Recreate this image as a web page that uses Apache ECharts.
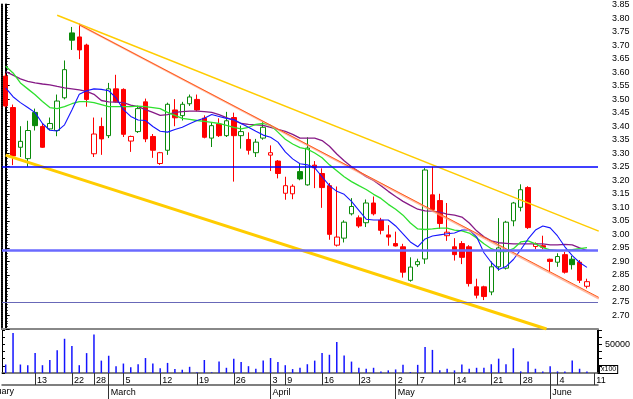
<!DOCTYPE html>
<html>
<head>
<meta charset="utf-8">
<script src="https://cdn.jsdelivr.net/npm/echarts/dist/echarts.min.js"></script>
<style>
	html, body { margin: 0; padding: 0; background: #fff; }
	#chart { width: 633px; height: 399px; }
</style>
</head>
<body>
<div id="chart"></div>
<script>
	// trading days shown (last slot is an empty day at the right edge)
	var dates = ['2012-02-07', '2012-02-08', '2012-02-09', '2012-02-10', '2012-02-13', '2012-02-14', '2012-02-15', '2012-02-16', '2012-02-17', '2012-02-22',
		'2012-02-23', '2012-02-24', '2012-02-28', '2012-02-29', '2012-03-01', '2012-03-02', '2012-03-05', '2012-03-06', '2012-03-07', '2012-03-08',
		'2012-03-09', '2012-03-12', '2012-03-13', '2012-03-14', '2012-03-15', '2012-03-16', '2012-03-19', '2012-03-20', '2012-03-21', '2012-03-22',
		'2012-03-23', '2012-03-26', '2012-03-27', '2012-03-28', '2012-03-29', '2012-03-30', '2012-04-03', '2012-04-05', '2012-04-09', '2012-04-10',
		'2012-04-11', '2012-04-12', '2012-04-13', '2012-04-16', '2012-04-17', '2012-04-18', '2012-04-19', '2012-04-20', '2012-04-23', '2012-04-24',
		'2012-04-25', '2012-04-26', '2012-04-27', '2012-05-02', '2012-05-03', '2012-05-04', '2012-05-07', '2012-05-08', '2012-05-09', '2012-05-10',
		'2012-05-11', '2012-05-14', '2012-05-15', '2012-05-16', '2012-05-17', '2012-05-18', '2012-05-21', '2012-05-22', '2012-05-23', '2012-05-24',
		'2012-05-28', '2012-05-29', '2012-05-30', '2012-05-31', '2012-06-01', '2012-06-04', '2012-06-05', '2012-06-06', '2012-06-07', '2012-06-08',
		'2012-06-11'];
	var monthNames = ['January', 'February', 'March', 'April', 'May', 'June', 'July', 'August', 'September', 'October', 'November', 'December'];

	var open = [3.585, 3.469, 3.322, 3.28, 3.451, 3.399, 3.39, 3.384, 3.505, 3.745,
		3.73, 3.70, 3.298, 3.399, 3.365, 3.538, 3.536, 3.345, 3.38, 3.49,
		3.362, 3.262, 3.311, 3.46, 3.439, 3.483, 3.499, 3.43, 3.356, 3.408,
		3.365, 3.432, 3.365, 3.351, 3.302, 3.356, 3.293, 3.271, 3.152, 3.15,
		3.232, 3.183, 3.256, 3.225, 3.18, 2.96, 2.986, 3.076, 3.061, 3.043,
		3.116, 3.052, 2.998, 2.966, 2.954, 2.83, 2.888, 2.909, 3.146, 3.125,
		2.995, 2.954, 2.966, 2.954, 2.806, 2.806, 2.787, 2.88, 2.875, 3.05,
		3.10, 3.173, 2.955, 2.958, 2.908, 2.897, 2.925, 2.908, 2.897, 2.808];
	var high = [3.595, 3.48, 3.40, 3.42, 3.465, 3.408, 3.432, 3.517, 3.643, 3.767,
		3.779, 3.705, 3.432, 3.432, 3.56, 3.59, 3.54, 3.365, 3.476, 3.502,
		3.371, 3.305, 3.487, 3.50, 3.49, 3.517, 3.517, 3.44, 3.414, 3.429,
		3.453, 3.45, 3.402, 3.377, 3.353, 3.417, 3.329, 3.275, 3.213, 3.185,
		3.262, 3.359, 3.271, 3.244, 3.19, 3.177, 3.052, 3.134, 3.07, 3.129,
		3.14, 3.061, 3.034, 3.01, 2.965, 2.915, 2.91, 3.245, 3.25, 3.15,
		3.116, 2.986, 2.975, 2.96, 2.836, 2.81, 2.90, 3.06, 3.05, 3.12,
		3.185, 3.178, 2.97, 2.995, 2.91, 2.93, 2.935, 2.92, 2.905, 2.836];
	var low = [3.47, 3.256, 3.286, 3.25, 3.384, 3.32, 3.385, 3.363, 3.499, 3.682,
		3.648, 3.472, 3.286, 3.294, 3.356, 3.488, 3.36, 3.305, 3.375, 3.341,
		3.283, 3.257, 3.294, 3.40, 3.421, 3.475, 3.455, 3.355, 3.323, 3.36,
		3.36, 3.195, 3.317, 3.295, 3.286, 3.35, 3.234, 3.207, 3.128, 3.13,
		3.2, 3.18, 3.171, 3.098, 2.98, 2.955, 2.97, 3.07, 3.024, 3.027,
		3.07, 3.0, 2.958, 2.955, 2.84, 2.825, 2.88, 2.891, 3.09, 3.02,
		2.976, 2.903, 2.89, 2.807, 2.763, 2.757, 2.775, 2.865, 2.87, 3.03,
		3.085, 3.02, 2.945, 2.945, 2.86, 2.88, 2.855, 2.87, 2.82, 2.80];
	var close = [3.475, 3.29, 3.344, 3.384, 3.402, 3.322, 3.41, 3.493, 3.609, 3.718,
		3.682, 3.499, 3.371, 3.353, 3.538, 3.49, 3.37, 3.362, 3.465, 3.353,
		3.311, 3.302, 3.481, 3.431, 3.481, 3.508, 3.46, 3.359, 3.402, 3.365,
		3.42, 3.365, 3.38, 3.311, 3.341, 3.396, 3.302, 3.225, 3.18, 3.178,
		3.205, 3.319, 3.246, 3.173, 3.0, 2.99, 3.045, 3.103, 3.031, 3.116,
		3.076, 3.015, 2.99, 2.957, 2.86, 2.879, 2.899, 3.238, 3.092, 3.04,
		3.008, 2.925, 2.915, 2.818, 2.775, 2.77, 2.88, 2.95, 3.045, 3.116,
		3.165, 3.025, 2.965, 2.952, 2.90, 2.918, 2.86, 2.888, 2.83, 2.825];
	// volume (x100)
	var volume = [14800, 69900, 14800, 13600, 34700, 13600, 22700, 39800, 59700, 47200,
		13600, 34700, 67000, 21600, 30100, 11900, 16500, 10200, 15300, 26100,
		16500, 8500, 17600, 6800, 5700, 10800, 1500, 22700, 1200, 19900,
		9100, 25000, 19300, 11900, 7400, 21600, 26100, 19300, 13600, 6800,
		9100, 15300, 21600, 34700, 31800, 54000, 30700, 19900, 9100, 7400,
		9100, 2800, 4600, 6200, 14200, 1700, 14200, 45400, 40300, 4600,
		7400, 4600, 14800, 7400, 9100, 9100, 15300, 25000, 15300, 43200,
		2800, 19900, 7400, 2800, 11900, 2800, 2800, 21600, 7400, 2800];

	// moving averages
	var maShort = [3.542, 3.509, 3.487, 3.469, 3.45, 3.41, 3.385, 3.382, 3.405, 3.46,
		3.518, 3.531, 3.538, 3.536, 3.531, 3.505, 3.461, 3.436, 3.423, 3.421,
		3.399, 3.381, 3.378, 3.388, 3.396, 3.409, 3.421, 3.429, 3.443, 3.436,
		3.429, 3.425, 3.410, 3.396, 3.381, 3.367, 3.359, 3.341, 3.305, 3.279,
		3.261, 3.257, 3.246, 3.213, 3.180, 3.159, 3.148, 3.122, 3.089, 3.056,
		3.053, 3.053, 3.053, 3.031, 3.002, 2.972, 2.954, 2.983, 2.994, 2.998,
		3.002, 3.005, 3.016, 3.016, 2.991, 2.932, 2.896, 2.870, 2.881, 2.907,
		2.943, 2.983, 3.016, 3.031, 3.024, 2.994, 2.954, 2.921, 2.896, 2.878];
	var maMid = [3.622, 3.597, 3.560, 3.538, 3.516, 3.491, 3.469, 3.465, 3.472, 3.483,
		3.491, 3.491, 3.487, 3.480, 3.472, 3.472, 3.472, 3.472, 3.474, 3.472,
		3.469, 3.465, 3.451, 3.440, 3.429, 3.425, 3.421, 3.418, 3.414, 3.410,
		3.403, 3.396, 3.390, 3.396, 3.407, 3.410, 3.403, 3.378, 3.352, 3.334,
		3.321, 3.315, 3.301, 3.283, 3.257, 3.235, 3.213, 3.195, 3.180, 3.166,
		3.148, 3.133, 3.111, 3.093, 3.071, 3.042, 3.020, 3.018, 3.020, 3.023,
		3.023, 3.016, 3.013, 3.005, 2.987, 2.965, 2.947, 2.936, 2.936, 2.947,
		2.972, 2.976, 2.965, 2.951, 2.943, 2.940, 2.941, 2.943, 2.947, 2.951];
	var maLong = [3.602, 3.589, 3.575, 3.566, 3.560, 3.556, 3.553, 3.547, 3.542, 3.538,
		3.534, 3.529, 3.518, 3.495, 3.490, 3.489, 3.487, 3.478, 3.472, 3.461,
		3.451, 3.440, 3.443, 3.451, 3.454, 3.456, 3.456, 3.454, 3.451, 3.443,
		3.432, 3.421, 3.410, 3.407, 3.405, 3.403, 3.396, 3.388, 3.381, 3.370,
		3.356, 3.356, 3.356, 3.347, 3.326, 3.297, 3.272, 3.250, 3.232, 3.213,
		3.199, 3.180, 3.159, 3.140, 3.122, 3.107, 3.093, 3.087, 3.086, 3.082,
		3.075, 3.071, 3.064, 3.042, 3.013, 2.991, 2.976, 2.969, 2.967, 2.965,
		2.965, 2.965, 2.965, 2.965, 2.961, 2.961, 2.963, 2.961, 2.950, 2.940];

	// trend lines: [day index, price]
	var upperChannel = [[7.0, 3.810], [80.6, 3.012]];
	var lowerChannel = [[0, 3.293], [73.5, 2.65]];
	var peakLine = [[10, 3.775], [80.6, 2.767]];
	var peakLine2 = [[10, 3.775], [80.6, 2.762]];
	var hLevels = [3.25, 2.94, 2.75];

	var RED = '#ff0000', GREEN = '#0a8a0a';

	function dow(s) { return new Date(s + 'T00:00:00Z').getUTCDay(); }
	var weekStart = dates.map(function (d, i) { return i > 0 && dow(d) < dow(dates[i - 1]); });
	var monthStart = dates.map(function (d, i) { return i > 0 && d.slice(5, 7) !== dates[i - 1].slice(5, 7); });

	var candles = open.map(function (o, i) {
		var c = close[i];
		var ref = i > 0 ? close[i - 1] : o;
		var col = c < ref ? RED : GREEN;
		var fill = c > o ? '#ffffff' : col;
		return {
			value: [o, c, low[i], high[i]],
			itemStyle: { color: fill, color0: fill, borderColor: col, borderColor0: col, borderWidth: 1 }
		};
	});

	var chart = echarts.init(document.getElementById('chart'), null, { renderer: 'canvas' });
	var font = 'Liberation Sans, Arial, sans-serif';

	chart.setOption({
		animation: false,
		backgroundColor: '#ffffff',
		textStyle: { fontFamily: font },
		grid: [
			{ left: 2, right: 35, top: 1, height: 328 },
			{ left: 2, right: 35, top: 330, height: 43 }
		],
		xAxis: [
			{
				type: 'category', gridIndex: 0, data: dates, boundaryGap: true,
				axisLine: { show: true, onZero: false, lineStyle: { color: '#888', width: 2 } },
				axisTick: { show: false }, axisLabel: { show: false }, splitLine: { show: false }
			},
			{
				type: 'category', gridIndex: 1, data: dates, boundaryGap: true, position: 'bottom',
				axisLine: { show: true, onZero: false, lineStyle: { color: '#555', width: 1.5 } },
				axisTick: {
					show: true, alignWithLabel: true, length: 12, lineStyle: { color: '#333' },
					interval: function (i) { return weekStart[i] || monthStart[i]; }
				},
				axisLabel: {
					interval: function (i) { return weekStart[i]; },
					formatter: function (v) { return String(parseInt(v.slice(8), 10)); },
					align: 'left', margin: 3, padding: [0, 0, 0, 2], fontSize: 9, color: '#000'
				},
				splitLine: { show: false }
			},
			{
				type: 'category', gridIndex: 1, data: dates, boundaryGap: true, position: 'bottom', offset: 12,
				axisLine: { show: true, onZero: false, lineStyle: { color: '#555', width: 1.5 } },
				axisTick: {
					show: true, alignWithLabel: true, length: 14, lineStyle: { color: '#333' },
					interval: function (i) { return monthStart[i]; }
				},
				axisLabel: {
					interval: function (i) { return monthStart[i]; },
					formatter: function (v) { return monthNames[parseInt(v.slice(5, 7), 10) - 1]; },
					align: 'left', margin: 3, padding: [0, 0, 0, 2], fontSize: 9, color: '#000'
				},
				splitLine: { show: false }
			},
			{ type: 'value', gridIndex: 0, min: -0.5, max: dates.length - 0.5, show: false }
		],
		yAxis: [
			{
				type: 'value', gridIndex: 0, position: 'right', min: 2.65, max: 3.85, interval: 0.05,
				axisLine: { show: true, lineStyle: { color: '#000', width: 2 } },
				axisTick: { show: true, length: 4, lineStyle: { color: '#000' } },
				minorTick: { show: true, splitNumber: 5, length: 2, lineStyle: { color: '#000' } },
				axisLabel: {
					showMinLabel: false, margin: 14, fontSize: 9, color: '#000',
					formatter: function (v) { return v.toFixed(2); }
				},
				splitLine: { show: false }
			},
			{
				type: 'value', gridIndex: 0, position: 'left', min: 2.65, max: 3.85,
				axisLine: { show: true, lineStyle: { color: '#000', width: 2, type: [1, 1] } },
				axisTick: { show: false }, axisLabel: { show: false }, splitLine: { show: false }
			},
			{
				type: 'value', gridIndex: 1, position: 'right', min: 0, max: 75000, interval: 12500,
				axisLine: { show: true, lineStyle: { color: '#000', width: 2 } },
				axisTick: { show: true, length: 4, lineStyle: { color: '#000' } },
				axisLabel: {
					margin: 7, fontSize: 9, color: '#000',
					formatter: function (v) { return v === 50000 ? '50000' : ''; }
				},
				splitLine: { show: false }
			},
			{
				type: 'value', gridIndex: 1, position: 'left', min: 0, max: 75000, interval: 12500,
				axisLine: { show: true, lineStyle: { color: '#000', width: 1 } },
				axisTick: { show: true, inside: true, length: 3, lineStyle: { color: '#000' } },
				axisLabel: { show: false }, splitLine: { show: false }
			}
		],
		graphic: [
			{
				type: 'text', x: 14, y: 392,
				style: { text: 'February', align: 'right', verticalAlign: 'middle', fontSize: 9, fontFamily: font, fill: '#000' }
			},
			{
				type: 'text', x: 600, y: 366,
				style: {
					text: 'x100', fontSize: 7, fontFamily: font, fill: '#000',
					backgroundColor: '#fff', borderColor: '#000', borderWidth: 1, padding: [0, 1, 0, 1]
				}
			}
		],
		series: [
			{
				// horizontal support / resistance levels
				type: 'line', xAxisIndex: 3, yAxisIndex: 0, data: [], z: 1, silent: true,
				markLine: {
					symbol: ['none', 'none'], silent: true, label: { show: false },
					data: [
						{ yAxis: hLevels[0], lineStyle: { color: '#0000ff', width: 1.5, type: 'solid' } },
						{ yAxis: hLevels[1], lineStyle: { color: '#6a6aff', width: 2.5, type: 'solid' } },
						{ yAxis: hLevels[2], lineStyle: { color: '#6868b8', width: 1, type: 'solid' } }
					]
				}
			},
			{
				type: 'candlestick', xAxisIndex: 0, yAxisIndex: 0, barWidth: 5, z: 2,
				data: candles
			},
			{
				type: 'line', xAxisIndex: 0, yAxisIndex: 0, data: maLong, showSymbol: false, z: 3,
				lineStyle: { color: '#861a86', width: 1.3 }
			},
			{
				type: 'line', xAxisIndex: 0, yAxisIndex: 0, data: maMid, showSymbol: false, z: 3,
				lineStyle: { color: '#2ee02e', width: 1.3 }
			},
			{
				type: 'line', xAxisIndex: 0, yAxisIndex: 0, data: maShort, showSymbol: false, z: 3,
				lineStyle: { color: '#1515ff', width: 1.1 }
			},
			{
				type: 'line', xAxisIndex: 3, yAxisIndex: 0, data: upperChannel, showSymbol: false, z: 4,
				lineStyle: { color: '#ffcc00', width: 1.5 }
			},
			{
				type: 'line', xAxisIndex: 3, yAxisIndex: 0, data: lowerChannel, showSymbol: false, z: 4,
				lineStyle: { color: '#ffcc00', width: 3 }
			},
			{
				type: 'line', xAxisIndex: 3, yAxisIndex: 0, data: peakLine2, showSymbol: false, z: 4,
				lineStyle: { color: '#ffa080', width: 2, opacity: 0.7 }
			},
			{
				type: 'line', xAxisIndex: 3, yAxisIndex: 0, data: peakLine, showSymbol: false, z: 4,
				lineStyle: { color: '#ff5a1a', width: 1 }
			},
			{
				type: 'bar', xAxisIndex: 1, yAxisIndex: 2, data: volume, barWidth: 1.5,
				itemStyle: { color: '#1414ff' }
			}
		]
	});
</script>
</body>
</html>
